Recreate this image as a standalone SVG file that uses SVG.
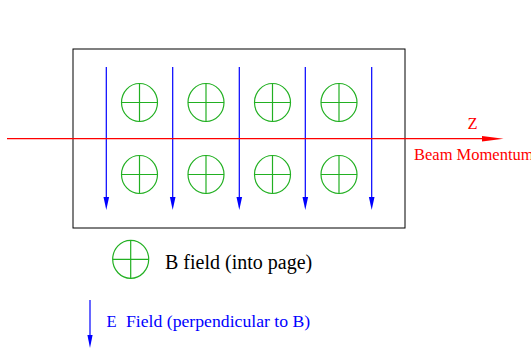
<svg xmlns="http://www.w3.org/2000/svg" width="531" height="354" viewBox="0 0 531 354">
<style>
.b{fill:none;stroke:#22b022;stroke-width:1.2}
.e{stroke:#0000ff;stroke-width:1.2}
.eh{fill:#0000ff}
text{font-family:'Liberation Serif','Times New Roman',Times,serif}
</style>
<defs>
<g id="bsym">
<ellipse cx="0" cy="0" rx="18" ry="19" class="b"/>
<line x1="-18" y1="0" x2="18" y2="0" class="b"/>
<line x1="0" y1="-19" x2="0" y2="19" class="b"/>
</g>
</defs>
<rect width="531" height="354" fill="#fff"/>
<g id="box">
<rect x="73" y="49" width="332" height="179" fill="none" stroke="#000" stroke-width="1"/>
</g>
<g id="bfield">
<use href="#bsym" x="139.5" y="102.5"/>
<use href="#bsym" x="206" y="102.5"/>
<use href="#bsym" x="272.5" y="102.5"/>
<use href="#bsym" x="339" y="102.5"/>
<use href="#bsym" x="139.5" y="174.5"/>
<use href="#bsym" x="206" y="174.5"/>
<use href="#bsym" x="272.5" y="174.5"/>
<use href="#bsym" x="339" y="174.5"/>
</g>
<g id="connectors">
<g id="efield">
<line x1="106.3" y1="67" x2="106.3" y2="198" class="e"/>
<polygon points="103.5,197 109.1,197 106.3,210" class="eh"/>
<line x1="172.7" y1="67" x2="172.7" y2="198" class="e"/>
<polygon points="169.9,197 175.5,197 172.7,210" class="eh"/>
<line x1="239.3" y1="67" x2="239.3" y2="198" class="e"/>
<polygon points="236.5,197 242.1,197 239.3,210" class="eh"/>
<line x1="305.3" y1="67" x2="305.3" y2="198" class="e"/>
<polygon points="302.5,197 308.1,197 305.3,210" class="eh"/>
<line x1="371.7" y1="67" x2="371.7" y2="198" class="e"/>
<polygon points="368.9,197 374.5,197 371.7,210" class="eh"/>
</g>
<g id="beam">
<line x1="7" y1="138.7" x2="484" y2="138.7" stroke="#ff0000" stroke-width="1.3"/>
<polygon points="482,135.9 503.5,138.7 482,141.5" fill="#ff0000"/>
</g>
</g>
<g id="beam-label" fill="#ff0000">
<text x="467.5" y="129" font-size="16.5" font-family="Liberation Serif, serif">Z</text>
<text x="414" y="160" font-size="16.5" font-family="Liberation Serif, serif">Beam Momentum</text>
</g>
<g id="legend-b">
<use href="#bsym" x="130.7" y="259.3"/>
<text x="165" y="269.3" font-size="20" fill="#000" font-family="Liberation Serif, serif">B field (into page)</text>
</g>
<g id="legend-e">
<line x1="90" y1="300" x2="90" y2="336" class="e"/>
<polygon points="87.4,335 92.6,335 90,348" class="eh"/>
<text x="106.5" y="326.7" font-size="16.5" fill="#0000ff" font-family="Liberation Serif, serif">E</text>
<text x="126" y="326.7" font-size="17.7" fill="#0000ff" font-family="Liberation Serif, serif">Field (perpendicular to B)</text>
</g>
</svg>
